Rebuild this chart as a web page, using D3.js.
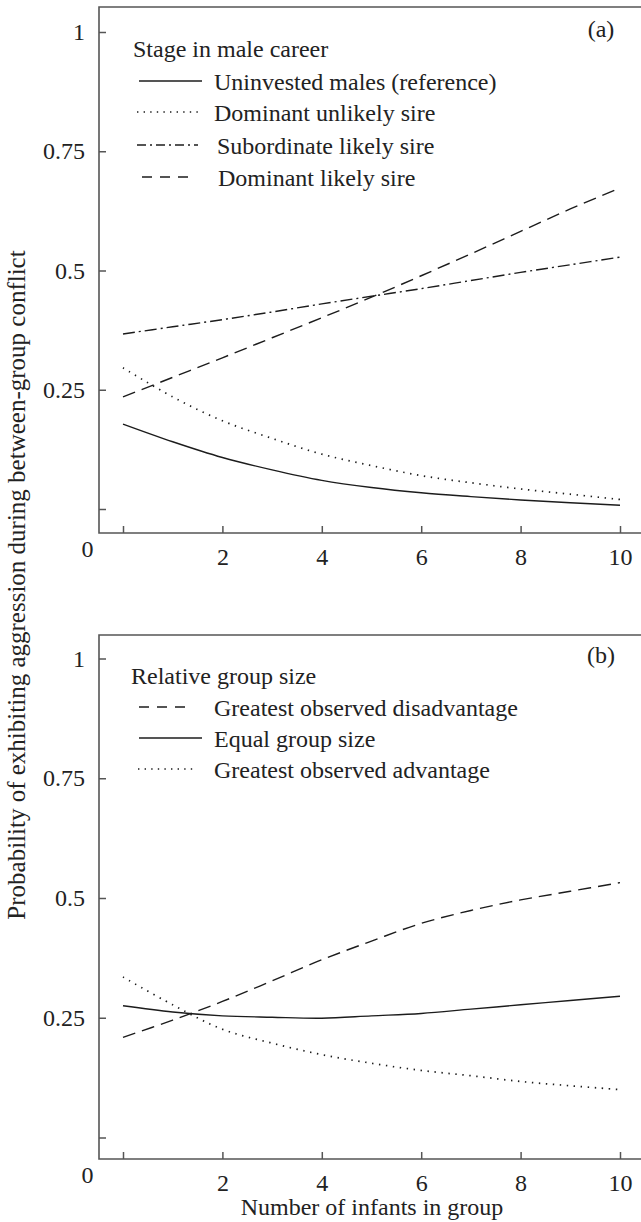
<!DOCTYPE html>
<html>
<head>
<meta charset="utf-8">
<script src="https://cdn.jsdelivr.net/npm/d3@7"></script>
<style>
  body { margin: 0; background: #fff; }
  svg text { font-family: "Liberation Serif", "Times New Roman", serif; fill: #222; }
</style>
</head>
<body>
<svg id="chart" width="641" height="1222" font-family="Liberation Serif, serif"></svg>
<script>
// x values (number of infants) shared by every curve
const infants = [0, 1, 2, 3, 4, 5, 6, 7, 8, 9, 10];
const xTicks = [0, 2, 4, 6, 8, 10];
const yTicks = [0, 0.25, 0.5, 0.75, 1];
const yTickLabels = ['', '0.25', '0.5', '0.75', '1'];

// panel (a) - stage in male career
const careerNames = ['Uninvested males (reference)', 'Dominant unlikely sire', 'Subordinate likely sire', 'Dominant likely sire'];
const uninvested = [0.178, 0.141, 0.108, 0.082, 0.060, 0.045, 0.034, 0.026, 0.019, 0.013, 0.008];
const domUnlikely = [0.296, 0.235, 0.185, 0.148, 0.115, 0.091, 0.070, 0.055, 0.042, 0.031, 0.020];
const subLikely = [0.367, 0.382, 0.397, 0.413, 0.430, 0.446, 0.462, 0.479, 0.496, 0.512, 0.528];
const domLikely = [0.235, 0.276, 0.317, 0.359, 0.401, 0.444, 0.489, 0.535, 0.582, 0.629, 0.673];

// panel (b) - relative group size
const groupNames = ['Greatest observed disadvantage', 'Equal group size', 'Greatest observed advantage'];
const disadvantage = [0.209, 0.245, 0.284, 0.327, 0.371, 0.410, 0.447, 0.474, 0.496, 0.514, 0.532];
const equalSize = [0.275, 0.262, 0.254, 0.251, 0.249, 0.254, 0.259, 0.268, 0.277, 0.286, 0.295];
const advantage = [0.335, 0.277, 0.226, 0.197, 0.173, 0.155, 0.140, 0.129, 0.117, 0.108, 0.100];

// line styles: [in plot, in legend key]
const SOLID = [null, null];
const DOTTED = ['1.4,5.6', '1.4,5.2'];
const DASHDOT = ['12,4,2,4', '9,4,2,4'];
const DASHED = ['13,7', '10,8'];
const INK = '#1c1c1c', AXIS = '#555';

const svg = d3.select('#chart');
const x = d3.scaleLinear().domain([0, 10]).range([123, 620]);

function label (sel, size) {
  return sel.attr('font-family', 'Liberation Serif, serif').attr('font-size', size || 24).attr('fill', '#222');
}

function drawPanel (opts) {
  let g = svg.append('g');
  let y = d3.scaleLinear().domain([0, 1]).range([opts.y0, opts.y1]);

  // frame: left + bottom axis lines, top border, open on the right
  g.append('path')
    .attr('d', `M641,${opts.top}H99V${opts.bottom}H641`)
    .attr('fill', 'none')
    .attr('stroke', AXIS)
    .attr('stroke-width', 1.6);

  // ticks point inwards
  let yAxis = g.append('g')
    .attr('transform', 'translate(99,0)')
    .call(d3.axisLeft(y).tickValues(yTicks).tickSize(-7).tickPadding(14)
      .tickFormat((d, i) => yTickLabels[i]));
  let xAxis = g.append('g')
    .attr('transform', `translate(0,${opts.bottom})`)
    .call(d3.axisBottom(x).tickValues(xTicks).tickSize(-7).tickPadding(15)
      .tickFormat(d => d === 0 ? '' : d));
  [yAxis, xAxis].forEach(a => {
    a.attr('font-family', 'Liberation Serif, serif');
    a.select('.domain').remove();
    a.selectAll('line').attr('stroke', AXIS).attr('stroke-width', 1.5);
    label(a.selectAll('text'));
  });
  // "0" sits at the corner, not under the first tick
  label(g.append('text')).attr('x', 87.5).attr('y', opts.bottom + 24)
    .attr('text-anchor', 'middle').text('0');

  let line = d3.line()
    .x((d, i) => x(infants[i]))
    .y(d => y(d))
    .curve(d3.curveCatmullRom);

  opts.series.forEach(s => {
    g.append('path')
      .attr('d', line(s.values))
      .attr('fill', 'none')
      .attr('stroke', INK)
      .attr('stroke-width', s.dash === DOTTED ? 1.7 : 1.4)
      .attr('stroke-dasharray', s.dash[0]);
  });

  // panel letter
  label(g.append('text')).attr('x', 601).attr('y', opts.letterY)
    .attr('text-anchor', 'middle').text(opts.letter);

  // legend
  label(g.append('text')).attr('x', opts.legendX).attr('y', opts.legendY[0])
    .text(opts.legendTitle);
  opts.series.forEach((s, i) => {
    let by = opts.legendY[i + 1];
    g.append('line')
      .attr('x1', s.key[0]).attr('x2', s.key[1])
      .attr('y1', by - 9).attr('y2', by - 9)
      .attr('stroke', INK)
      .attr('stroke-width', s.dash === DOTTED ? 1.5 : 1.4)
      .attr('stroke-dasharray', s.dash[1]);
    label(g.append('text')).attr('x', s.textX).attr('y', by).text(s.name);
  });
}

drawPanel({
  top: 7, bottom: 533, y0: 509, y1: 32,
  letter: '(a)', letterY: 37,
  legendTitle: 'Stage in male career', legendX: 133,
  legendY: [57, 90, 121, 154, 186],
  series: [
    { name: careerNames[0], values: uninvested, dash: SOLID, key: [139, 202], textX: 214 },
    { name: careerNames[1], values: domUnlikely, dash: DOTTED, key: [137, 198], textX: 214 },
    { name: careerNames[2], values: subLikely, dash: DASHDOT, key: [137, 198], textX: 217 },
    { name: careerNames[3], values: domLikely, dash: DASHED, key: [142, 189], textX: 218 },
  ]
});

drawPanel({
  top: 635, bottom: 1159, y0: 1137.5, y1: 658.5,
  letter: '(b)', letterY: 663,
  legendTitle: 'Relative group size', legendX: 131,
  legendY: [684, 716, 747, 778],
  series: [
    { name: groupNames[0], values: disadvantage, dash: DASHED, key: [139, 189], textX: 214 },
    { name: groupNames[1], values: equalSize, dash: SOLID, key: [139, 202], textX: 214 },
    { name: groupNames[2], values: advantage, dash: DOTTED, key: [138, 194], textX: 214 },
  ]
});

// shared axis titles
label(svg.append('text'), 25)
  .attr('transform', 'translate(25,585) rotate(-90)')
  .attr('text-anchor', 'middle')
  .text('Probability of exhibiting aggression during between-group conflict');
label(svg.append('text'))
  .attr('x', 372).attr('y', 1215)
  .attr('text-anchor', 'middle')
  .text('Number of infants in group');
</script>
</body>
</html>
